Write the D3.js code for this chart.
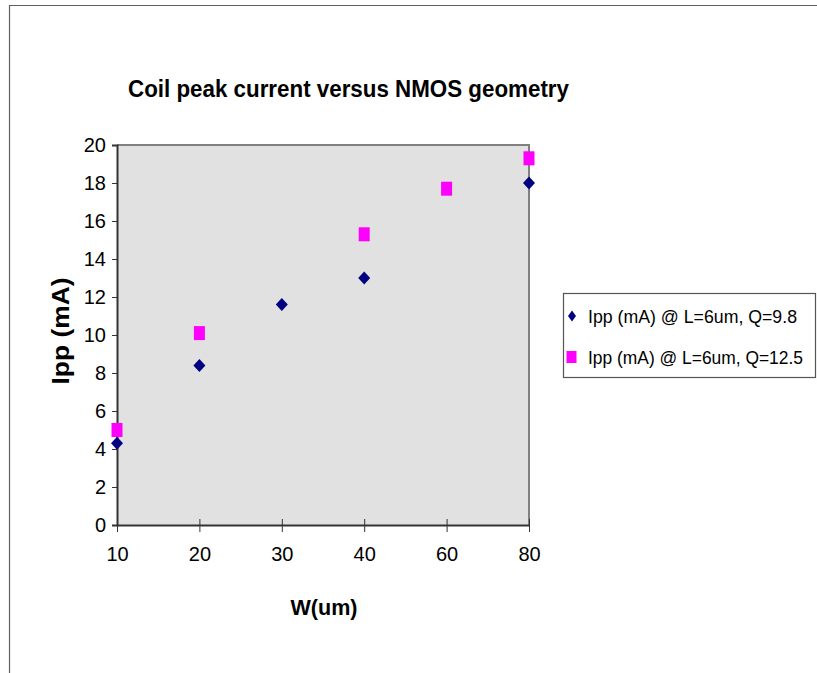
<!DOCTYPE html>
<html>
<head>
<meta charset="utf-8">
<script src="https://cdn.jsdelivr.net/npm/d3@7"></script>
<style>
  html, body { margin: 0; padding: 0; background: #ffffff; }
  svg { display: block; }
  text { font-family: "Liberation Sans", Arial, sans-serif; fill: #000; }
</style>
</head>
<body>
<svg id="chart" width="817" height="673"></svg>
<script>
// Transistor width categories (um) and measured peak coil currents (mA)
const widths = ["10", "20", "30", "40", "60", "80"];
const ippQ98 = [4.3, 8.4, 11.6, 13.0, null, 18.0];
const ippQ125 = [5.0, 10.1, null, 15.3, 17.7, 19.3];
const yTicks = [0, 2, 4, 6, 8, 10, 12, 14, 16, 18, 20];
const seriesNames = ["Ipp (mA) @ L=6um, Q=9.8", "Ipp (mA) @ L=6um, Q=12.5"];

const svg = d3.select("#chart");

// outer chart frame (left and top edges visible)
svg.append("path")
  .attr("d", "M9.5,673 V5.5 H817")
  .attr("fill", "none")
  .attr("stroke", "#606060")
  .attr("stroke-width", 1.2);

const plot = { left: 117, right: 529, top: 145, bottom: 525 };

const x = d3.scalePoint().domain(widths).range([plot.left, plot.right]).padding(0);
const y = d3.scaleLinear().domain([0, 20]).range([plot.bottom, plot.top]);

// plot area
svg.append("rect")
  .attr("x", plot.left).attr("y", plot.top)
  .attr("width", plot.right - plot.left).attr("height", plot.bottom - plot.top)
  .attr("fill", "#e1e1e1");
svg.append("path")
  .attr("d", `M${plot.left},${plot.top} H${plot.right} V${plot.bottom}`)
  .attr("fill", "none").attr("stroke", "#808080").attr("stroke-width", 2);

// y axis
const yAxis = svg.append("g")
  .attr("transform", `translate(${plot.left},0)`)
  .call(d3.axisLeft(y).tickValues(yTicks).tickSize(5).tickPadding(6).tickFormat(d3.format("d")));
yAxis.select(".domain").attr("stroke", "#333").attr("stroke-width", 2);
yAxis.selectAll(".tick line").attr("stroke", "#333");
yAxis.selectAll(".tick text")
  .attr("font-size", 20).attr("fill", "#000")
  .attr("font-family", "Liberation Sans, Arial, sans-serif");

// x axis with ticks crossing the axis line
const xAxis = svg.append("g")
  .attr("transform", `translate(0,${plot.bottom})`)
  .call(d3.axisBottom(x).tickSizeInner(7).tickSizeOuter(0).tickPadding(15));
xAxis.select(".domain").attr("stroke", "#333").attr("stroke-width", 2);
xAxis.selectAll(".tick line").attr("stroke", "#333").attr("y1", -6);
xAxis.selectAll(".tick text")
  .attr("font-size", 20).attr("fill", "#000")
  .attr("font-family", "Liberation Sans, Arial, sans-serif");

// markers
const diamond = (w, h) => `M0,${-h / 2} L${w / 2},0 L0,${h / 2} L${-w / 2},0 Z`;

svg.append("g").selectAll("path")
  .data(widths.map((w, i) => ({ w, v: ippQ98[i] })).filter(d => d.v != null))
  .join("path")
  .attr("transform", d => `translate(${x(d.w)},${y(d.v)})`)
  .attr("d", diamond(12, 13))
  .attr("fill", "#000080");

svg.append("g").selectAll("rect")
  .data(widths.map((w, i) => ({ w, v: ippQ125[i] })).filter(d => d.v != null))
  .join("rect")
  .attr("x", d => x(d.w) - 5.5).attr("y", d => y(d.v) - 7)
  .attr("width", 11).attr("height", 14)
  .attr("fill", "#ff00ff");

// title and axis titles
svg.append("text")
  .attr("x", 128).attr("y", 97)
  .attr("font-size", 23).attr("font-weight", "bold")
  .attr("textLength", 441).attr("lengthAdjust", "spacingAndGlyphs")
  .text("Coil peak current versus NMOS geometry");

svg.append("text")
  .attr("transform", "translate(69,331) rotate(-90)")
  .attr("text-anchor", "middle")
  .attr("font-size", 23).attr("font-weight", "bold")
  .attr("textLength", 107).attr("lengthAdjust", "spacingAndGlyphs")
  .text("Ipp (mA)");

svg.append("text")
  .attr("x", 324).attr("y", 615)
  .attr("text-anchor", "middle")
  .attr("font-size", 22).attr("font-weight", "bold")
  .attr("textLength", 67).attr("lengthAdjust", "spacingAndGlyphs")
  .text("W(um)");

// legend
const legend = svg.append("g");
legend.append("rect")
  .attr("x", 563.5).attr("y", 293.5).attr("width", 252).attr("height", 84)
  .attr("fill", "#fff").attr("stroke", "#555").attr("stroke-width", 1.2);

legend.append("path")
  .attr("transform", "translate(572,316)")
  .attr("d", diamond(8, 11))
  .attr("fill", "#000080");
legend.append("rect")
  .attr("x", 566.5).attr("y", 351).attr("width", 10).attr("height", 12)
  .attr("fill", "#ff00ff");

const legendLengths = [209, 215];
legend.selectAll("text.entry")
  .data(seriesNames)
  .join("text")
  .attr("class", "entry")
  .attr("x", 588).attr("y", (d, i) => 323 + i * 41)
  .attr("font-size", 18.5)
  .attr("textLength", (d, i) => legendLengths[i]).attr("lengthAdjust", "spacingAndGlyphs")
  .text(d => d);
</script>
</body>
</html>
